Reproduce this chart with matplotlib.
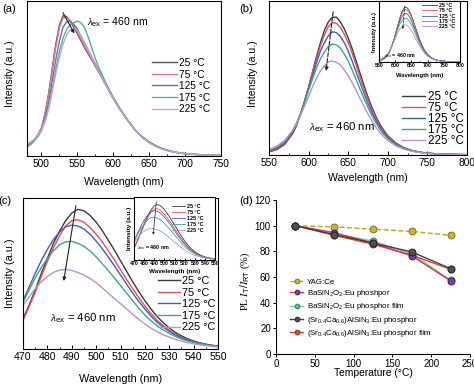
import matplotlib
matplotlib.use("Agg")
import matplotlib.pyplot as plt
from matplotlib.ticker import MultipleLocator

plt.rcParams["font.family"] = ["Liberation Sans", "DejaVu Sans"]
plt.rcParams["mathtext.fontset"] = "custom"
plt.rcParams["mathtext.rm"] = "Liberation Sans"
plt.rcParams["mathtext.it"] = "Liberation Serif:italic"
plt.rcParams["mathtext.bf"] = "Liberation Sans:bold"
plt.rcParams["axes.linewidth"] = 0.8

W, H = 474, 385

temps = ["25 °C", "75 °C", "125 °C", "175 °C", "225 °C"]
colors = ["#3c3c3c", "#e0505e", "#3f5fb0", "#43a582", "#b893cb"]
colors_a = ["#555555", "#e07585", "#6072b8", "#62aa8c", "#c2a4d2"]

# (a) spectra
wl_a = [480, 485, 490, 495, 500, 505, 510, 515, 520, 525, 530, 535, 540, 545, 550, 555, 560,
        565, 570, 575, 580, 585, 590, 595, 600, 610, 620, 630, 640, 650, 660, 670, 680, 690,
        700, 710, 720, 730, 740, 750]
a_25 = [0.06, 0.075, 0.10, 0.135, 0.18, 0.27, 0.40, 0.56, 0.72, 0.84, 0.905, 0.90, 0.87, 0.83,
        0.79, 0.745, 0.70, 0.66, 0.62, 0.58, 0.54, 0.497, 0.455, 0.412, 0.37, 0.295, 0.23, 0.17,
        0.125, 0.09, 0.065, 0.045, 0.032, 0.022, 0.016, 0.012, 0.009, 0.007, 0.005, 0.004]
a_75 = [0.06, 0.075, 0.10, 0.135, 0.18, 0.265, 0.39, 0.55, 0.70, 0.825, 0.89, 0.895, 0.875, 0.84,
        0.80, 0.755, 0.71, 0.668, 0.625, 0.585, 0.545, 0.502, 0.46, 0.417, 0.375, 0.30, 0.232,
        0.172, 0.125, 0.09, 0.064, 0.044, 0.031, 0.021, 0.015, 0.011, 0.008, 0.006, 0.005, 0.004]
a_125 = [0.07, 0.08, 0.10, 0.13, 0.17, 0.24, 0.34, 0.48, 0.62, 0.74, 0.83, 0.865, 0.87, 0.85,
         0.82, 0.775, 0.73, 0.685, 0.64, 0.595, 0.55, 0.505, 0.46, 0.417, 0.375, 0.30, 0.232,
         0.17, 0.122, 0.088, 0.062, 0.043, 0.030, 0.021, 0.015, 0.011, 0.008, 0.006, 0.005, 0.004]
a_175 = [0.07, 0.08, 0.10, 0.125, 0.16, 0.22, 0.31, 0.43, 0.56, 0.67, 0.76, 0.815, 0.845, 0.86,
         0.87, 0.86, 0.83, 0.77, 0.70, 0.63, 0.57, 0.52, 0.47, 0.425, 0.38, 0.30, 0.232, 0.17,
         0.12, 0.086, 0.06, 0.042, 0.03, 0.021, 0.015, 0.011, 0.008, 0.006, 0.005, 0.004]
a_225 = [0.08, 0.09, 0.11, 0.135, 0.17, 0.225, 0.30, 0.41, 0.53, 0.635, 0.72, 0.78, 0.815, 0.82,
         0.81, 0.775, 0.73, 0.683, 0.635, 0.59, 0.545, 0.50, 0.455, 0.412, 0.37, 0.295, 0.228,
         0.168, 0.12, 0.085, 0.06, 0.042, 0.03, 0.021, 0.015, 0.011, 0.008, 0.006, 0.005, 0.004]

# (b) spectra
wl_b = [550, 560, 570, 580, 585, 590, 595, 600, 605, 610, 615, 620, 625, 630, 635, 640, 645,
        650, 655, 660, 665, 670, 675, 680, 685, 690, 695, 700, 710, 720, 730, 740, 750, 760,
        770, 780, 790, 800]
b_25 = [0.02, 0.035, 0.07, 0.14, 0.195, 0.265, 0.35, 0.44, 0.54, 0.64, 0.73, 0.81, 0.865, 0.895,
        0.895, 0.865, 0.82, 0.76, 0.69, 0.61, 0.53, 0.45, 0.375, 0.31, 0.25, 0.20, 0.16, 0.125,
        0.078, 0.048, 0.03, 0.019, 0.012, 0.008, 0.005, 0.004, 0.003, 0.002]
b_75 = [0.022, 0.04, 0.075, 0.145, 0.20, 0.27, 0.352, 0.44, 0.535, 0.625, 0.71, 0.78, 0.835,
        0.86, 0.855, 0.83, 0.785, 0.73, 0.66, 0.585, 0.505, 0.43, 0.36, 0.295, 0.24, 0.19, 0.152,
        0.12, 0.074, 0.046, 0.029, 0.018, 0.012, 0.008, 0.005, 0.004, 0.003, 0.002]
b_125 = [0.026, 0.045, 0.082, 0.15, 0.205, 0.27, 0.347, 0.43, 0.515, 0.60, 0.675, 0.73, 0.775,
         0.80, 0.795, 0.77, 0.73, 0.675, 0.61, 0.54, 0.47, 0.40, 0.335, 0.275, 0.225, 0.18, 0.143,
         0.113, 0.07, 0.044, 0.028, 0.018, 0.012, 0.008, 0.005, 0.004, 0.003, 0.002]
b_175 = [0.03, 0.052, 0.09, 0.16, 0.21, 0.27, 0.342, 0.42, 0.495, 0.565, 0.625, 0.67, 0.705,
         0.72, 0.715, 0.695, 0.656, 0.61, 0.552, 0.49, 0.427, 0.365, 0.308, 0.255, 0.208, 0.168,
         0.134, 0.106, 0.066, 0.042, 0.027, 0.017, 0.011, 0.007, 0.005, 0.004, 0.003, 0.002]
b_225 = [0.035, 0.058, 0.095, 0.16, 0.205, 0.26, 0.318, 0.38, 0.443, 0.50, 0.547, 0.58, 0.605,
         0.61, 0.602, 0.585, 0.553, 0.515, 0.47, 0.42, 0.367, 0.315, 0.266, 0.22, 0.181, 0.147,
         0.118, 0.094, 0.06, 0.038, 0.025, 0.016, 0.01, 0.007, 0.005, 0.003, 0.002, 0.002]

# (c) spectra
wl_c = [470, 472.5, 475, 477.5, 480, 482.5, 485, 487.5, 490, 492.5, 495, 497.5, 500, 502.5,
        505, 507.5, 510, 512.5, 515, 517.5, 520, 522.5, 525, 527.5, 530, 532.5, 535, 537.5,
        540, 542.5, 545, 547.5, 550]
c_25 = [0.20, 0.29, 0.39, 0.50, 0.60, 0.70, 0.78, 0.85, 0.90, 0.925, 0.915, 0.885, 0.84, 0.785,
        0.72, 0.655, 0.585, 0.515, 0.445, 0.38, 0.32, 0.265, 0.215, 0.175, 0.14, 0.11, 0.087,
        0.068, 0.053, 0.041, 0.032, 0.025, 0.019]
c_75 = [0.19, 0.28, 0.375, 0.48, 0.58, 0.67, 0.75, 0.815, 0.85, 0.856, 0.84, 0.805, 0.76, 0.71,
        0.65, 0.59, 0.525, 0.46, 0.40, 0.34, 0.285, 0.235, 0.19, 0.155, 0.125, 0.098, 0.078,
        0.062, 0.049, 0.038, 0.03, 0.023, 0.018]
c_125 = [0.32, 0.41, 0.50, 0.585, 0.66, 0.725, 0.775, 0.81, 0.82, 0.815, 0.795, 0.76, 0.715,
         0.665, 0.61, 0.55, 0.49, 0.43, 0.37, 0.315, 0.265, 0.218, 0.178, 0.145, 0.117, 0.093,
         0.074, 0.059, 0.047, 0.037, 0.029, 0.023, 0.018]
c_175 = [0.31, 0.39, 0.47, 0.54, 0.60, 0.65, 0.69, 0.71, 0.713, 0.70, 0.68, 0.65, 0.61, 0.565,
         0.52, 0.47, 0.42, 0.37, 0.32, 0.27, 0.225, 0.187, 0.155, 0.127, 0.103, 0.083, 0.066,
         0.053, 0.043, 0.034, 0.027, 0.021, 0.016]
c_225 = [0.29, 0.345, 0.40, 0.445, 0.48, 0.507, 0.523, 0.528, 0.52, 0.507, 0.49, 0.467, 0.44,
         0.405, 0.37, 0.335, 0.30, 0.265, 0.23, 0.197, 0.165, 0.138, 0.115, 0.095, 0.078, 0.064,
         0.052, 0.042, 0.034, 0.027, 0.022, 0.017, 0.013]

# (d) thermal quenching
temp_d = [25, 75, 125, 175, 225]
yag = [100, 99, 97.3, 95.5, 92.5]
ba_phos = [100, 94.5, 86.5, 76.5, 57]
ba_film = [100, 93.5, 88, 78, 57.5]
sr_phos = [100, 93, 86.5, 79.5, 66.5]
sr_film = [100, 92.5, 85.5, 77, 66]

d_labels = ["YAG:Ce",
            "BaSiN$_2$O$_2$:Eu phoshpor",
            "BaSiN$_2$O$_2$:Eu phosphor film",
            "(Sr$_{0.4}$Ca$_{0.6}$)AlSiN$_3$:Eu phosphor",
            "(Sr$_{0.4}$Ca$_{0.6}$)AlSiN$_3$:Eu phosphor film"]

fig = plt.figure(figsize=(W / 100, H / 100), dpi=100)


def add_ax(left, top, right, bottom):
    return fig.add_axes([left / W, 1 - bottom / H, (right - left) / W, (bottom - top) / H])


def fig_pt(x, y):
    return (x / W, 1 - y / H)


def spectra(ax, wl, series, cols, xlim, ylim, major, minor, lw, fs):
    for vals, c, lab in zip(series, cols, temps):
        ax.plot(wl, vals, color=c, lw=lw, label=lab)
    ax.set_xlim(xlim)
    ax.set_ylim(ylim)
    ax.set_yticks([])
    ax.xaxis.set_major_locator(MultipleLocator(major))
    ax.xaxis.set_minor_locator(MultipleLocator(minor))
    ax.tick_params(axis="x", which="major", direction="in", length=3, width=0.7,
                   labelsize=fs, pad=2.5)
    ax.tick_params(axis="x", which="minor", direction="in", length=1.6, width=0.6)


def legend_at(ax, x, y, fs, spacing, hlen, hpad, weight="normal", lw=1.0):
    leg = ax.legend(loc="upper left", bbox_to_anchor=fig_pt(x, y),
                    bbox_transform=fig.transFigure, frameon=False,
                    labelspacing=spacing, handlelength=hlen, handletextpad=hpad,
                    borderpad=0, borderaxespad=0, prop={"size": fs, "weight": weight})
    for line in leg.get_lines():
        line.set_linewidth(lw)
    return leg


lam = r"$\lambda_{\rm ex}$ = 460 nm"

# ---- (a)
ax_a = add_ax(27, 1, 221, 156)
spectra(ax_a, wl_a, [a_25, a_75, a_125, a_175, a_225], colors_a, (480, 750), (0, 1),
        50, 25, 1.0, 7.3)
ax_a.set_xlabel("Wavelength (nm)", fontsize=7.6)
ax_a.set_ylabel("Intensity (a.u.)", fontsize=7.6)
ax_a.xaxis.set_label_coords(0.5, -0.135)
ax_a.yaxis.set_label_coords(-0.062, 0.53)
ax_a.annotate("", xy=(546, 0.79), xytext=(530, 0.925),
              arrowprops=dict(arrowstyle="-|>", color="#222222", lw=0.8,
                              mutation_scale=5, shrinkA=0, shrinkB=0))
ax_a.text(564, 0.86, lam, fontsize=7.6, va="center")
legend_at(ax_a, 152, 58, 7.3, 0.15, 2.5, 0.2)

# ---- (b)
ax_b = add_ax(269, 1, 467, 155)
spectra(ax_b, wl_b, [b_25, b_75, b_125, b_175, b_225], colors, (550, 800), (0, 1),
        50, 25, 1.0, 7.3)
ax_b.set_xlabel("Wavelength (nm)", fontsize=7.6)
ax_b.set_ylabel("Intensity (a.u.)", fontsize=7.6)
ax_b.xaxis.set_label_coords(0.5, -0.12)
ax_b.yaxis.set_label_coords(-0.056, 0.53)
ax_b.annotate("", xy=(622, 0.545), xytext=(631, 0.93),
              arrowprops=dict(arrowstyle="-|>", color="#222222", lw=0.8, ls="--",
                              mutation_scale=5, shrinkA=0, shrinkB=0))
ax_b.text(600.5, 0.18, lam, fontsize=8.2, va="center")
legend_at(ax_b, 402, 91, 8.4, -0.08, 2.0, 0.25)

ins_b = add_ax(379, 1, 460, 62)
spectra(ins_b, wl_b, [b_25, b_75, b_125, b_175, b_225], colors, (550, 800), (0, 1),
        50, 25, 0.6, 3.8)
ins_b.tick_params(axis="x", which="major", length=1.5, pad=1)
ins_b.tick_params(axis="x", which="minor", length=0.8)
for t in ins_b.get_xticklabels():
    t.set_fontweight("bold")
ins_b.set_xlabel("Wavelength (nm)", fontsize=4.2, fontweight="bold")
ins_b.set_ylabel("Intensity (a.u.)", fontsize=4.2, fontweight="bold")
ins_b.xaxis.set_label_coords(0.5, -0.18)
ins_b.yaxis.set_label_coords(-0.03, 0.5)
ins_b.annotate("", xy=(623, 0.54), xytext=(630, 0.92),
               arrowprops=dict(arrowstyle="-|>", color="#222222", lw=0.5, ls="--",
                               mutation_scale=3, shrinkA=0, shrinkB=0))
ins_b.text(565, 0.1, lam, fontsize=3.8, fontweight="bold", va="center")
legend_at(ins_b, 422, 3, 3.8, 0.05, 2.8, 0.4, weight="bold", lw=0.6)

# ---- (c)
ax_c = add_ax(23, 198, 218, 349)
spectra(ax_c, wl_c, [c_25, c_75, c_125, c_175, c_225], colors, (470, 550), (0, 1),
        10, 5, 1.0, 7.6)
ax_c.set_xlabel("Wavelength (nm)", fontsize=7.8)
ax_c.set_ylabel("Intensity (a.u.)", fontsize=7.8)
ax_c.xaxis.set_label_coords(0.5, -0.165)
ax_c.yaxis.set_label_coords(-0.041, 0.5)
ax_c.annotate("", xy=(486.7, 0.45), xytext=(491.7, 0.95),
              arrowprops=dict(arrowstyle="-|>", color="#222222", lw=0.8,
                              mutation_scale=5, shrinkA=0, shrinkB=0))
ax_c.text(481, 0.205, lam, fontsize=8.2, va="center")
legend_at(ax_c, 158, 276, 7.8, 0.15, 2.0, 0.25)

ins_c = add_ax(134, 197, 215, 260)
spectra(ins_c, wl_c, [c_25, c_75, c_125, c_175, c_225], colors, (470, 550), (0, 1.05),
        10, 5, 0.6, 3.8)
ins_c.tick_params(axis="x", which="major", length=1.5, pad=1)
ins_c.tick_params(axis="x", which="minor", length=0.8)
for t in ins_c.get_xticklabels():
    t.set_fontweight("bold")
ins_c.set_xlabel("Wavelength (nm)", fontsize=4.6, fontweight="bold")
ins_c.set_ylabel("Intensity (a.u.)", fontsize=4.6, fontweight="bold")
ins_c.xaxis.set_label_coords(0.5, -0.15)
ins_c.yaxis.set_label_coords(-0.03, 0.5)
ins_c.annotate("", xy=(489, 0.42), xytext=(492, 0.97),
               arrowprops=dict(arrowstyle="-|>", color="#222222", lw=0.5,
                               mutation_scale=3, shrinkA=0, shrinkB=0))
ins_c.text(473, 0.2, lam, fontsize=3.9, fontweight="bold", va="center")
legend_at(ins_c, 172, 204, 3.9, 0.2, 2.4, 0.4, weight="bold", lw=0.6)

# ---- (d)
ax_d = add_ax(276, 200, 470, 354)
d_series = [yag, ba_phos, ba_film, sr_phos, sr_film]
line_cols = ["#b8a82a", "#e0304a", "#7cc8a0", "#404040", "#e8383a"]
face_cols = ["#c8b432", "#7a3aa8", "#5cbf98", "#505050", "#e84848"]
edge_cols = ["#7a6a10", "#3a1060", "#2a7a58", "#202020", "#a01818"]
styles = ["--", "-", "-", "-", "-"]
zorders = [2, 5, 3, 6, 4]
handles = []
for vals, lc, fc, ec, ls, z, lab in zip(d_series, line_cols, face_cols, edge_cols,
                                        styles, zorders, d_labels):
    h, = ax_d.plot(temp_d, vals, ls=ls, color=lc, lw=1.0, marker="o", ms=5,
                   mfc=fc, mec=ec, mew=0.6, zorder=z, label=lab)
    handles.append(h)
ax_d.set_xlim(0, 250)
ax_d.set_ylim(0, 120)
ax_d.xaxis.set_major_locator(MultipleLocator(50))
ax_d.yaxis.set_major_locator(MultipleLocator(20))
ax_d.spines["top"].set_visible(False)
ax_d.spines["right"].set_visible(False)
ax_d.tick_params(axis="both", direction="out", length=2.5, width=0.7, labelsize=7.0, pad=1.2)
ax_d.set_xlabel("Temperature (°C)", fontsize=7.4)
ax_d.set_ylabel(r"PL $I_{\rm T}/I_{\rm RT}$ (%)", fontsize=7.6, family="Liberation Serif")
ax_d.xaxis.set_label_coords(0.5, -0.088)
ax_d.yaxis.set_label_coords(-0.124, 0.474)
leg = ax_d.legend(handles=handles, loc="upper left", bbox_to_anchor=fig_pt(290, 278),
                  bbox_transform=fig.transFigure, frameon=False, fontsize=5.7,
                  labelspacing=0.3, handlelength=1.7, handletextpad=0.4,
                  borderpad=0, borderaxespad=0)
for h in leg.legend_handles:
    h.set_markersize(3.5)

# panel labels
fig.text(*fig_pt(2, 9), "(a)", fontsize=8, va="center")
fig.text(*fig_pt(239, 9), "(b)", fontsize=8, va="center")
fig.text(*fig_pt(-2, 201), "(c)", fontsize=8, va="center")
fig.text(*fig_pt(239, 201), "(d)", fontsize=8, va="center")

fig.savefig("out.png", dpi=100)
